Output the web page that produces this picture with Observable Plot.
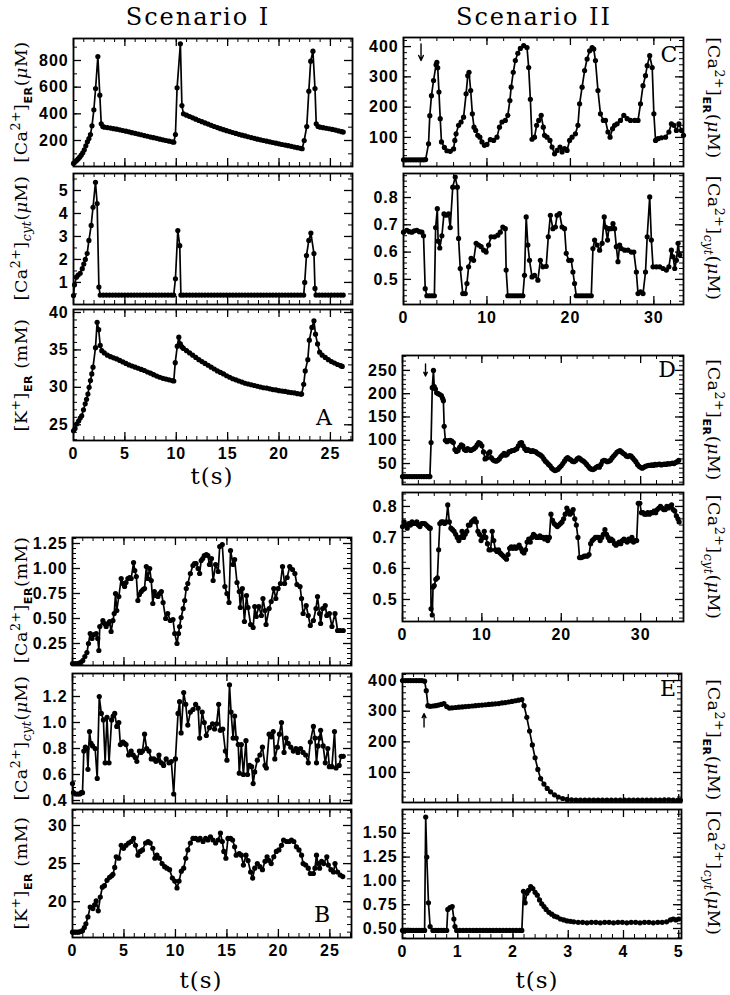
<!DOCTYPE html>
<html><head><meta charset="utf-8">
<script src="https://cdn.jsdelivr.net/npm/d3@7"></script>
<script src="https://cdn.jsdelivr.net/npm/@observablehq/plot@0.6"></script>
<style>
body{margin:0;background:#fff;}
#fig{position:relative;width:730px;height:995px;overflow:hidden;background:#fff;color:#000;}
.pl{position:absolute;}
.tx{position:absolute;font-family:'DejaVu Serif',serif;transform:translate(-50%,-50%);white-space:nowrap;line-height:1;}
.title{font-size:24px;letter-spacing:2px;}
.tlab{font-size:23px;letter-spacing:1px;}
.letter{font-size:22px;}
.ylab{position:absolute;font-family:'DejaVu Serif',serif;font-size:17.5px;letter-spacing:0.5px;white-space:nowrap;line-height:1;}
.ylab.l{transform:translate(-50%,-50%) rotate(-90deg);}
.ylab.r{transform:translate(-50%,-50%) rotate(90deg);}
.ylab sup,.ylab sub{font-size:72%;}
.ylab sub.er{font-family:'DejaVu Sans',sans-serif;font-weight:bold;font-size:64%;}
.ylab sub.cyt{font-style:italic;}
</style></head>
<body><div id="fig"></div>
<script>
// ---------- data: [t (s), value] ----------
const caErA = [[0,28],[0.15,38],[0.3,50],[0.45,62],[0.6,75],[0.75,90],[0.9,108],[1.05,130],[1.2,160],[1.35,190],[1.5,215],[1.65,245],[1.8,310],[1.98,430],[2.15,590],[2.37,830],[2.56,540],[2.7,325],[2.85,305],
[3.0,300],[3.3,297],[3.6,293],[3.9,289],[4.2,285],[4.5,280],[4.8,275],[5.1,270],[5.4,265],[5.7,259],[6.0,254],[6.3,248],[6.6,243],[6.9,237],[7.2,232],[7.5,226],[7.8,221],[8.1,216],[8.4,210],[8.7,205],[9.0,200],[9.3,195],[9.6,190],[9.76,187],
[9.92,245],[10.08,595],[10.4,925],[10.55,462],[10.7,400],
[11.0,390],[11.3,380],[11.6,370],[11.9,360],[12.2,350],[12.5,341],[12.8,332],[13.1,323],[13.4,314],[13.7,305],[14.0,297],[14.3,289],[14.6,281],[14.9,274],[15.2,267],[15.5,260],[15.8,253],[16.1,246],[16.4,240],[16.7,234],[17.0,228],[17.3,222],[17.6,216],[17.9,210],[18.2,205],[18.5,200],[18.8,195],[19.1,190],[19.4,185],[19.7,180],[20.0,175],[20.3,170],[20.6,166],[20.9,161],[21.2,156],[21.5,151],[21.8,146],[22.1,141],[22.25,138],
[22.45,200],[22.7,305],[22.9,570],[23.08,795],[23.3,870],[23.5,590],[23.62,325],[23.8,305],
[24.0,300],[24.3,296],[24.6,292],[24.9,288],[25.2,283],[25.5,278],[25.8,272],[26.1,266],[26.25,263]];

const caCytA = [[0,0.43],[0.1,0.9],[0.28,1.23],[0.45,1.32],[0.65,1.4],[0.85,1.6],[1.0,1.8],[1.15,2.0],[1.33,2.26],[1.5,2.83],[1.72,3.48],[1.9,4.27],[2.14,5.36],[2.3,4.43],[2.47,0.8],[2.6,0.45],
[2.9,0.45],[3.2,0.45],[3.5,0.45],[3.8,0.45],[4.1,0.45],[4.4,0.45],[4.7,0.45],[5.0,0.45],[5.3,0.45],[5.6,0.45],[5.9,0.45],[6.2,0.45],[6.5,0.45],[6.8,0.45],[7.1,0.45],[7.4,0.45],[7.7,0.45],[8.0,0.45],[8.3,0.45],[8.6,0.45],[8.9,0.45],[9.2,0.45],[9.5,0.45],[9.75,0.45],
[9.92,1.16],[10.15,3.26],[10.34,2.6],[10.45,0.45],
[10.7,0.45],[11.0,0.45],[11.3,0.45],[11.6,0.45],[11.9,0.45],[12.2,0.45],[12.5,0.45],[12.8,0.45],[13.1,0.45],[13.4,0.45],[13.7,0.45],[14.0,0.45],[14.3,0.45],[14.6,0.45],[14.9,0.45],[15.2,0.45],[15.5,0.45],[15.8,0.45],[16.1,0.45],[16.4,0.45],[16.7,0.45],[17.0,0.45],[17.3,0.45],[17.6,0.45],[17.9,0.45],[18.2,0.45],[18.5,0.45],[18.8,0.45],[19.1,0.45],[19.4,0.45],[19.7,0.45],[20.0,0.45],[20.3,0.45],[20.6,0.45],[20.9,0.45],[21.2,0.45],[21.5,0.45],[21.8,0.45],[22.1,0.45],[22.4,0.45],
[22.5,1.0],[22.67,2.17],[22.9,2.83],[23.1,3.15],[23.4,2.25],[23.5,0.74],[23.6,0.45],
[23.9,0.45],[24.2,0.45],[24.5,0.45],[24.8,0.45],[25.1,0.45],[25.4,0.45],[25.7,0.45],[26.0,0.45],[26.25,0.45]];

const kErA = [[0,24.2],[0.15,24.5],[0.3,25.1],[0.5,25.5],[0.65,25.9],[0.8,26.2],[0.97,27.0],[1.14,27.8],[1.27,28.4],[1.4,29.1],[1.52,30.0],[1.65,30.9],[1.78,31.8],[1.9,32.7],[2.14,35.3],[2.3,38.7],[2.45,37.7],[2.6,35.6],[2.75,34.9],
[3.0,34.6],[3.3,34.3],[3.6,34.1],[3.9,33.95],[4.2,33.8],[4.5,33.6],[4.8,33.4],[5.1,33.2],[5.4,33.0],[5.7,32.85],[6.0,32.7],[6.3,32.55],[6.6,32.4],[6.9,32.25],[7.2,32.05],[7.5,31.9],[7.8,31.7],[8.1,31.5],[8.4,31.35],[8.7,31.2],[9.0,31.1],[9.3,31.0],[9.6,30.9],[9.76,30.85],
[9.9,33.3],[10.1,35.5],[10.25,36.7],[10.4,35.8],[10.55,35.4],[10.7,35.2],
[11.0,34.9],[11.3,34.6],[11.6,34.3],[11.9,34.0],[12.2,33.7],[12.5,33.45],[12.8,33.2],[13.1,32.95],[13.4,32.7],[13.7,32.45],[14.0,32.2],[14.3,32.0],[14.6,31.8],[14.9,31.55],[15.2,31.35],[15.5,31.15],[15.8,31.0],[16.1,30.85],[16.4,30.7],[16.7,30.55],[17.0,30.45],[17.3,30.35],[17.6,30.25],[17.9,30.15],[18.2,30.05],[18.5,29.95],[18.8,29.9],[19.1,29.8],[19.4,29.7],[19.7,29.65],[20.0,29.55],[20.3,29.5],[20.6,29.45],[20.9,29.35],[21.2,29.3],[21.5,29.25],[21.8,29.15],[22.1,29.1],[22.2,29.1],
[22.4,30.4],[22.55,32.2],[22.8,33.7],[22.95,36.3],[23.2,38.0],[23.4,38.9],[23.55,37.1],[23.75,35.8],[23.95,34.7],
[24.2,34.3],[24.5,34.0],[24.8,33.7],[25.1,33.45],[25.4,33.25],[25.7,33.05],[26.0,32.9],[26.15,32.8]];

const caErB = [[0,0.05],[0.25,0.05],[0.5,0.05],[0.75,0.06],[1.0,0.08],[1.2,0.12],[1.4,0.16],[1.55,0.25],[1.72,0.35],[1.9,0.3],[2.1,0.34],[2.3,0.35],[2.45,0.3],[2.56,0.18],[2.65,0.42],[2.95,0.48],[3.1,0.45],[3.27,0.42],[3.45,0.45],[3.6,0.47],[3.75,0.37],[3.93,0.48],[4.05,0.55],[4.18,0.75],[4.3,0.58],[4.5,0.72],[4.73,0.9],[4.9,0.85],[5.06,0.82],[5.2,0.86],[5.38,0.9],[5.55,0.91],[5.7,0.9],[5.93,1.06],[6.05,0.98],[6.2,0.92],[6.35,0.68],[6.5,0.74],[6.68,0.77],[6.85,0.79],[7.0,0.8],[7.17,1.02],[7.3,0.9],[7.5,1.0],[7.65,0.88],[7.8,0.65],[7.95,0.77],[8.1,0.73],[8.3,0.72],[8.45,0.75],[8.63,0.77],[8.8,0.66],[9.05,0.5],[9.25,0.55],[9.5,0.48],[9.76,0.49],[9.93,0.35],[10.15,0.25],[10.3,0.35],[10.4,0.42],[10.55,0.51],[10.75,0.6],[10.9,0.68],[11.05,0.8],[11.2,0.85],[11.45,0.95],[11.7,1.03],[11.85,1.05],[12.0,1.05],[12.2,1.0],[12.35,0.95],[12.5,1.08],[12.65,1.1],[12.8,1.13],[13.0,1.14],[13.15,1.13],[13.3,1.04],[13.5,1.1],[13.66,0.88],[13.9,1.04],[14.15,0.97],[14.3,1.22],[14.55,1.24],[14.8,0.82],[15.0,0.75],[15.2,0.66],[15.35,1.18],[15.6,1.04],[15.75,1.09],[15.98,0.86],[16.2,0.77],[16.3,0.61],[16.5,0.8],[16.7,0.47],[16.9,0.73],[17.05,0.61],[17.3,0.44],[17.55,0.41],[17.7,0.62],[17.85,0.52],[18.1,0.62],[18.35,0.53],[18.5,0.7],[18.7,0.58],[18.8,0.44],[19.1,0.6],[19.3,0.67],[19.55,0.8],[19.75,0.7],[19.97,0.8],[20.2,0.85],[20.4,1.02],[20.6,0.85],[20.85,0.91],[21.1,1.02],[21.37,0.99],[21.6,0.95],[21.8,0.84],[22.1,0.82],[22.25,0.7],[22.4,0.55],[22.7,0.63],[22.9,0.53],[23.1,0.43],[23.4,0.48],[23.65,0.6],[23.8,0.72],[24.0,0.55],[24.1,0.45],[24.3,0.6],[24.55,0.63],[24.7,0.53],[24.95,0.55],[25.2,0.42],[25.5,0.55],[25.75,0.38],[26.0,0.38],[26.3,0.38]];

const caCytB = [[0,0.53],[0.1,0.46],[0.3,0.45],[0.5,0.45],[0.7,0.45],[0.85,0.46],[0.97,0.46],[1.1,0.78],[1.25,0.81],[1.4,0.8],[1.5,0.64],[1.65,0.93],[1.8,0.84],[1.95,0.82],[2.2,0.8],[2.4,0.57],[2.6,1.2],[2.8,1.07],[3.0,1.02],[3.17,0.69],[3.35,1.04],[3.55,0.69],[3.8,1.02],[3.95,1.05],[4.1,1.07],[4.3,0.97],[4.5,1.0],[4.65,0.83],[4.9,0.85],[5.05,0.84],[5.2,0.83],[5.45,0.75],[5.7,0.78],[5.9,0.75],[6.1,0.73],[6.25,0.7],[6.5,0.78],[6.65,0.77],[6.8,0.78],[7.0,0.91],[7.2,0.8],[7.43,0.78],[7.65,0.72],[7.9,0.72],[8.1,0.7],[8.25,0.71],[8.4,0.75],[8.63,0.69],[8.85,0.67],[9.1,0.72],[9.37,0.69],[9.6,0.7],[9.83,0.45],[10.0,0.72],[10.25,1.07],[10.4,1.16],[10.55,0.92],[10.8,1.23],[11.0,1.14],[11.2,0.98],[11.45,1.08],[11.7,1.1],[11.96,1.14],[12.2,1.11],[12.35,0.88],[12.6,1.08],[12.8,1.0],[13.0,0.9],[13.3,0.96],[13.6,0.99],[13.8,0.95],[14.0,0.99],[14.2,1.14],[14.35,0.94],[14.6,0.95],[14.85,0.78],[15.0,0.71],[15.25,1.29],[15.4,1.08],[15.6,0.88],[15.75,1.05],[15.9,0.88],[16.1,0.83],[16.2,0.61],[16.4,0.83],[16.6,0.6],[16.85,0.86],[17.0,0.6],[17.2,0.67],[17.4,0.66],[17.55,0.53],[17.7,0.62],[17.95,0.71],[18.2,0.75],[18.45,0.81],[18.7,0.67],[18.83,0.65],[19.1,0.91],[19.3,0.89],[19.5,0.93],[19.65,0.72],[19.9,0.81],[20.1,0.91],[20.3,1.0],[20.55,0.77],[20.75,0.88],[20.95,0.84],[21.2,0.81],[21.45,0.78],[21.7,0.8],[21.9,0.77],[22.15,0.8],[22.4,0.77],[22.65,0.75],[22.9,0.69],[23.1,0.85],[23.4,0.97],[23.55,0.88],[23.7,0.69],[23.85,0.82],[24.0,0.88],[24.1,0.94],[24.35,0.82],[24.55,0.69],[24.8,0.8],[24.95,0.66],[25.2,0.66],[25.45,0.93],[25.6,0.65],[25.9,0.67],[26.1,0.74],[26.3,0.74]];

const kErB = [[0,16.0],[0.2,16.0],[0.4,16.0],[0.6,16.0],[0.8,16.1],[0.97,16.2],[1.15,16.6],[1.3,17.1],[1.5,18.0],[1.72,19.3],[1.98,19.1],[2.15,19.6],[2.3,20.1],[2.5,18.8],[2.7,20.6],[2.9,21.9],[3.1,22.1],[3.35,22.8],[3.6,23.2],[3.8,23.4],[3.93,23.6],[4.1,24.5],[4.25,25.9],[4.5,25.7],[4.73,27.4],[4.96,27.0],[5.2,27.4],[5.45,27.7],[5.7,27.9],[5.93,28.3],[6.12,27.4],[6.35,26.1],[6.58,26.6],[6.8,26.8],[7.1,27.7],[7.35,27.9],[7.55,27.7],[7.8,27.0],[8.0,25.7],[8.2,26.1],[8.45,25.7],[8.7,25.0],[8.95,24.6],[9.17,24.4],[9.43,24.2],[9.7,23.1],[9.93,22.7],[10.15,21.8],[10.35,22.7],[10.57,24.0],[10.8,24.4],[11.0,25.7],[11.2,26.8],[11.45,27.7],[11.7,28.3],[11.96,28.3],[12.2,28.1],[12.4,28.3],[12.68,27.9],[12.93,28.3],[13.15,28.1],[13.4,28.5],[13.65,28.1],[13.9,27.7],[14.15,28.1],[14.37,29.0],[14.55,27.9],[14.7,26.6],[14.9,25.7],[15.1,28.3],[15.35,28.3],[15.55,28.1],[15.75,27.2],[15.9,26.1],[16.2,26.3],[16.4,26.1],[16.6,24.8],[16.85,26.1],[17.05,25.4],[17.3,23.9],[17.5,23.1],[17.7,24.4],[17.95,25.0],[18.2,24.6],[18.45,24.2],[18.7,25.3],[18.9,25.9],[19.1,25.4],[19.3,25.0],[19.55,25.9],[19.8,26.6],[20.05,26.8],[20.3,27.4],[20.5,28.1],[20.8,27.9],[21.05,27.9],[21.27,28.1],[21.5,27.9],[21.75,27.2],[22.0,26.8],[22.25,26.1],[22.4,25.0],[22.65,24.8],[22.9,24.4],[23.1,23.7],[23.4,23.7],[23.55,24.4],[23.7,26.1],[23.85,25.0],[24.0,24.4],[24.2,25.3],[24.4,25.0],[24.7,25.9],[24.85,24.8],[25.1,24.2],[25.35,23.9],[25.5,25.0],[25.75,23.9],[26.0,23.5],[26.25,23.3]];

const caErC = [[0,26],[0.3,26],[0.6,26],[0.9,26],[1.2,26],[1.5,26],[1.8,26],[2.1,26],[2.4,26],[2.65,27],[3.0,79],[3.15,172],[3.35,238],[3.6,288],[3.9,340],[4.0,348],[4.1,330],[4.25,250],[4.4,162],[4.55,85],[4.9,67],[5.2,56],[5.6,54],[6.0,62],[6.15,90],[6.3,112],[6.6,140],[6.9,151],[7.2,167],[7.5,244],[7.7,304],[7.85,315],[8.05,255],[8.25,178],[8.45,134],[8.65,123],[8.9,107],[9.15,101],[9.4,85],[9.7,74],[10.0,77],[10.4,93],[10.8,90],[11.2,101],[11.5,134],[11.8,151],[12.2,156],[12.5,173],[12.75,222],[12.9,266],[13.15,315],[13.4,354],[13.7,378],[14.0,394],[14.4,403],[14.8,397],[15.0,331],[15.2,226],[15.4,94],[15.7,101],[15.95,140],[16.2,156],[16.5,173],[16.75,134],[16.9,107],[17.2,101],[17.55,90],[17.8,68],[18.1,46],[18.4,57],[18.75,68],[19.0,52],[19.3,63],[19.6,57],[19.9,90],[20.2,101],[20.6,112],[20.9,140],[21.1,211],[21.4,266],[21.7,321],[22.0,359],[22.3,386],[22.6,397],[22.8,392],[23.0,354],[23.3,255],[23.6,178],[23.95,156],[24.2,156],[24.5,118],[24.75,101],[25.05,129],[25.3,140],[25.6,145],[26.0,156],[26.4,173],[26.8,162],[27.2,156],[27.7,156],[28.1,156],[28.4,211],[28.7,271],[29.0,304],[29.2,337],[29.5,370],[29.8,331],[30.0,178],[30.2,90],[30.5,96],[30.9,99],[31.4,101],[31.8,118],[32.1,145],[32.4,140],[32.7,123],[33.0,145],[33.3,123],[33.55,107]];

const caCytC = [[0,0.673],[0.4,0.68],[0.7,0.675],[1.0,0.673],[1.3,0.678],[1.6,0.68],[1.9,0.675],[2.2,0.673],[2.4,0.66],[2.6,0.466],[2.8,0.44],[3.1,0.44],[3.4,0.44],[3.7,0.44],[3.85,0.69],[4.05,0.759],[4.15,0.64],[4.35,0.615],[4.6,0.66],[4.85,0.74],[5.1,0.735],[5.4,0.74],[5.6,0.69],[5.9,0.838],[6.2,0.875],[6.45,0.838],[6.6,0.65],[6.8,0.54],[7.1,0.448],[7.4,0.448],[7.6,0.485],[7.8,0.546],[8.1,0.577],[8.4,0.57],[8.7,0.632],[9.0,0.626],[9.3,0.62],[9.6,0.607],[9.9,0.6],[10.2,0.626],[10.5,0.656],[10.9,0.656],[11.3,0.662],[11.6,0.673],[11.9,0.692],[12.2,0.686],[12.3,0.534],[12.5,0.44],[12.8,0.44],[13.1,0.44],[13.4,0.44],[13.7,0.44],[14.0,0.44],[14.3,0.44],[14.5,0.515],[14.7,0.729],[14.9,0.626],[15.1,0.57],[15.4,0.509],[15.7,0.515],[16.1,0.497],[16.4,0.57],[16.7,0.546],[17.1,0.548],[17.35,0.656],[17.6,0.735],[17.9,0.686],[18.2,0.692],[18.4,0.735],[18.7,0.741],[19.0,0.692],[19.3,0.686],[19.5,0.595],[19.8,0.57],[20.1,0.57],[20.3,0.527],[20.5,0.485],[20.7,0.44],[21.0,0.44],[21.3,0.44],[21.6,0.44],[21.9,0.44],[22.2,0.44],[22.5,0.44],[22.7,0.613],[22.9,0.644],[23.2,0.626],[23.5,0.607],[23.8,0.632],[24.05,0.729],[24.2,0.692],[24.45,0.644],[24.6,0.686],[24.85,0.686],[25.1,0.704],[25.3,0.686],[25.5,0.62],[25.7,0.565],[25.9,0.626],[26.1,0.613],[26.5,0.607],[26.9,0.607],[27.3,0.6],[27.6,0.6],[27.9,0.527],[28.1,0.448],[28.4,0.454],[28.7,0.448],[29.0,0.527],[29.2,0.656],[29.5,0.802],[29.7,0.644],[29.9,0.546],[30.3,0.546],[30.7,0.546],[31.1,0.54],[31.5,0.534],[31.8,0.546],[32.1,0.607],[32.3,0.583],[32.5,0.54],[32.7,0.57],[32.9,0.632],[33.1,0.589]];

const caErD = [[0,22],[0.3,22],[0.6,22],[0.9,22],[1.2,22],[1.5,22],[1.8,22],[2.1,22],[2.4,22],[2.7,22],[3.0,22],[3.3,22],[3.45,22],[3.6,95],[3.75,213],[3.9,250],[4.0,215],[4.15,210],[4.3,202],[4.5,200],[4.7,198],[4.9,196],[5.05,190],[5.15,185],[5.25,130],[5.4,100],[5.6,97],[5.8,99],[6.0,100],[6.2,98],[6.4,95],[6.6,80],[6.8,76],[7.0,78],[7.2,85],[7.4,90],[7.6,88],[7.8,80],[8.0,78],[8.2,82],[8.4,80],[8.6,78],[8.8,80],[9.0,82],[9.2,85],[9.4,90],[9.6,95],[9.8,93],[10.0,88],[10.2,75],[10.4,60],[10.6,62],[10.8,72],[11.0,75],[11.2,62],[11.4,58],[11.6,56],[11.8,55],[12.0,57],[12.2,60],[12.4,65],[12.6,68],[12.8,72],[13.0,68],[13.2,70],[13.4,75],[13.6,76],[13.8,78],[14.0,78],[14.2,80],[14.4,82],[14.6,88],[14.8,94],[15.0,95],[15.2,88],[15.4,82],[15.6,78],[15.8,80],[16.0,78],[16.2,76],[16.4,78],[16.6,76],[16.8,75],[17.0,72],[17.2,70],[17.4,68],[17.6,65],[17.8,60],[18.0,55],[18.2,52],[18.4,48],[18.6,45],[18.8,40],[19.0,37],[19.2,35],[19.4,36],[19.6,38],[19.8,42],[20.0,45],[20.2,50],[20.4,55],[20.6,60],[20.8,63],[21.0,60],[21.2,58],[21.4,55],[21.6,54],[21.8,56],[22.0,60],[22.2,62],[22.4,60],[22.6,57],[22.8,55],[23.0,52],[23.2,48],[23.4,44],[23.6,40],[23.8,38],[24.0,37],[24.2,39],[24.4,42],[24.6,44],[24.8,42],[25.0,48],[25.2,55],[25.4,57],[25.6,56],[25.8,54],[26.0,55],[26.2,57],[26.4,62],[26.6,66],[26.8,70],[27.0,74],[27.2,76],[27.4,78],[27.6,75],[27.8,72],[28.0,70],[28.2,66],[28.4,65],[28.6,67],[28.8,66],[29.0,62],[29.2,58],[29.4,54],[29.6,48],[29.8,44],[30.0,42],[30.2,40],[30.4,42],[30.6,44],[30.8,45],[31.0,46],[31.2,46],[31.4,47],[31.6,46],[31.8,48],[32.0,47],[32.2,48],[32.4,49],[32.6,47],[32.8,48],[33.0,49],[33.2,48],[33.4,50],[33.6,49],[33.8,50],[34.0,51],[34.2,50],[34.4,52],[34.6,54],[34.8,57]];

const caCytD = [[0,0.735],[0.2,0.75],[0.4,0.74],[0.6,0.73],[0.8,0.745],[1.0,0.74],[1.2,0.75],[1.4,0.745],[1.6,0.745],[1.8,0.75],[2.0,0.74],[2.2,0.735],[2.4,0.745],[2.6,0.745],[2.8,0.745],[3.0,0.74],[3.2,0.735],[3.4,0.73],[3.5,0.73],[3.6,0.47],[3.75,0.45],[3.85,0.54],[4.0,0.545],[4.2,0.565],[4.4,0.57],[4.55,0.66],[4.7,0.745],[4.9,0.75],[5.1,0.75],[5.3,0.745],[5.5,0.75],[5.7,0.805],[5.9,0.75],[6.1,0.73],[6.3,0.725],[6.5,0.72],[6.7,0.71],[6.9,0.7],[7.1,0.69],[7.3,0.7],[7.5,0.72],[7.7,0.7],[7.9,0.71],[8.1,0.72],[8.3,0.74],[8.5,0.74],[8.7,0.75],[8.9,0.755],[9.1,0.76],[9.3,0.75],[9.5,0.72],[9.7,0.71],[9.9,0.69],[10.1,0.7],[10.3,0.72],[10.5,0.7],[10.7,0.68],[10.9,0.66],[11.1,0.66],[11.3,0.72],[11.5,0.69],[11.7,0.66],[11.9,0.655],[12.1,0.66],[12.3,0.65],[12.5,0.645],[12.7,0.64],[12.9,0.635],[13.1,0.63],[13.3,0.645],[13.5,0.665],[13.7,0.67],[13.9,0.665],[14.1,0.67],[14.3,0.665],[14.5,0.67],[14.7,0.675],[14.9,0.665],[15.1,0.655],[15.3,0.65],[15.5,0.66],[15.7,0.685],[15.9,0.695],[16.1,0.685],[16.3,0.7],[16.5,0.71],[16.7,0.705],[16.9,0.7],[17.1,0.7],[17.3,0.705],[17.5,0.7],[17.7,0.7],[17.9,0.695],[18.1,0.7],[18.3,0.69],[18.5,0.7],[18.7,0.775],[18.9,0.755],[19.1,0.745],[19.3,0.74],[19.5,0.735],[19.7,0.74],[19.9,0.745],[20.1,0.75],[20.3,0.76],[20.5,0.775],[20.7,0.795],[20.9,0.785],[21.1,0.775],[21.3,0.78],[21.5,0.79],[21.7,0.76],[21.9,0.74],[22.1,0.7],[22.3,0.635],[22.5,0.635],[22.7,0.637],[22.9,0.64],[23.1,0.64],[23.3,0.64],[23.5,0.645],[23.7,0.68],[23.9,0.69],[24.1,0.695],[24.3,0.7],[24.5,0.7],[24.7,0.7],[24.9,0.69],[25.1,0.7],[25.3,0.71],[25.5,0.725],[25.7,0.71],[25.9,0.7],[26.1,0.69],[26.3,0.695],[26.5,0.69],[26.7,0.68],[26.9,0.675],[27.1,0.68],[27.3,0.685],[27.5,0.68],[27.7,0.69],[27.9,0.695],[28.1,0.69],[28.3,0.685],[28.5,0.695],[28.7,0.69],[28.9,0.7],[29.1,0.685],[29.3,0.69],[29.5,0.69],[29.7,0.81],[29.9,0.81],[30.1,0.78],[30.3,0.78],[30.5,0.775],[30.7,0.775],[30.9,0.78],[31.1,0.775],[31.3,0.78],[31.5,0.78],[31.7,0.785],[31.9,0.78],[32.1,0.79],[32.3,0.795],[32.5,0.8],[32.7,0.795],[32.9,0.79],[33.1,0.79],[33.3,0.8],[33.5,0.795],[33.7,0.8],[33.9,0.805],[34.1,0.79],[34.3,0.785],[34.5,0.77],[34.7,0.76],[34.85,0.75]];

const caErE = [[0,400],[0.05,400],[0.1,400],[0.15,400],[0.2,400],[0.25,400],[0.3,400],[0.35,400],[0.4,398],[0.43,367],[0.46,318],[0.5,316],[0.55,317],[0.6,318],[0.65,320],[0.7,322],[0.75,325],[0.8,315],[0.85,310],[0.9,311],[0.96,312],[1.02,313],[1.08,314],[1.14,315],[1.2,316],[1.26,317],[1.32,318],[1.38,319],[1.44,320],[1.5,321],[1.56,322],[1.62,323],[1.68,324],[1.74,325],[1.8,327],[1.86,328],[1.92,330],[1.98,332],[2.04,334],[2.1,336],[2.16,338],[2.2,318],[2.25,280],[2.3,235],[2.35,190],[2.4,148],[2.45,110],[2.5,80],[2.56,62],[2.62,48],[2.68,37],[2.75,27],[2.82,20],[2.9,15],[2.98,12],[3.06,11],[3.14,10],[3.22,10],[3.3,10],[3.38,10],[3.46,10],[3.54,10],[3.62,10],[3.7,10],[3.78,10],[3.86,10],[3.94,10],[4.02,10],[4.1,10],[4.18,10],[4.26,10],[4.34,10],[4.42,10],[4.5,10],[4.58,10],[4.66,10],[4.74,11],[4.82,11],[4.9,10],[4.98,9],[5.03,9]];

const caCytE = [[0,0.48],[0.05,0.48],[0.1,0.48],[0.15,0.48],[0.2,0.48],[0.25,0.48],[0.3,0.48],[0.35,0.48],[0.4,0.48],[0.42,1.67],[0.44,1.25],[0.47,0.77],[0.5,0.52],[0.55,0.48],[0.6,0.48],[0.65,0.48],[0.7,0.48],[0.75,0.48],[0.8,0.48],[0.82,0.7],[0.86,0.72],[0.9,0.73],[0.93,0.6],[0.95,0.52],[0.98,0.48],[1.04,0.48],[1.1,0.48],[1.16,0.48],[1.22,0.48],[1.28,0.48],[1.34,0.48],[1.4,0.48],[1.46,0.48],[1.52,0.48],[1.58,0.48],[1.64,0.48],[1.7,0.48],[1.76,0.48],[1.82,0.48],[1.88,0.48],[1.94,0.48],[2.0,0.48],[2.06,0.48],[2.12,0.48],[2.16,0.48],[2.19,0.89],[2.22,0.77],[2.25,0.87],[2.28,0.9],[2.32,0.94],[2.36,0.92],[2.4,0.88],[2.44,0.85],[2.48,0.8],[2.52,0.76],[2.56,0.73],[2.6,0.7],[2.65,0.67],[2.7,0.65],[2.75,0.63],[2.8,0.62],[2.86,0.6],[2.92,0.59],[2.98,0.58],[3.04,0.575],[3.1,0.57],[3.18,0.565],[3.26,0.565],[3.34,0.56],[3.42,0.565],[3.5,0.565],[3.58,0.56],[3.66,0.565],[3.74,0.565],[3.82,0.56],[3.9,0.565],[3.98,0.565],[4.06,0.56],[4.14,0.565],[4.22,0.565],[4.3,0.56],[4.38,0.565],[4.46,0.565],[4.54,0.56],[4.62,0.565],[4.7,0.565],[4.78,0.57],[4.85,0.59],[4.9,0.6],[4.95,0.59],[5.0,0.6]];

// arrows: [t, tail value, head value]
const arrowC = [[2.1, 409, 354]];
const arrowD = [[2.9, 264, 238]];
const arrowE = [[0.39, 248, 292]];

// tick labels
const ticksA_x = [0,5,10,15,20,25];
const ticksC_x = [0,10,20,30];
const ticksE_x = [0,1,2,3,4,5];

const panels = [
 {data:caErA, left:73, top:38, w:279, h:128, xd:[0,27.15], yd:[5,965], xt:ticksA_x, xs:1, yt:[200,400,600,800], ys:100, f:"d", xl:false},
 {data:caCytA, left:73, top:173, w:279, h:131, xd:[0,27.15], yd:[0.04,5.74], xt:ticksA_x, xs:1, yt:[1,2,3,4,5], ys:0.5, f:"d", xl:false},
 {data:kErA, left:73, top:309, w:279, h:131, xd:[0,27.15], yd:[22.9,40.4], xt:ticksA_x, xs:1, yt:[25,30,35,40], ys:1, f:"d", xl:true},
 {data:caErB, left:72, top:537, w:279, h:128, xd:[0,27.1], yd:[0.03,1.31], xt:ticksA_x, xs:1, yt:[0.25,0.5,0.75,1.0,1.25], ys:0.05, f:".2f", xl:false},
 {data:caCytB, left:72, top:673, w:279, h:130, xd:[0,27.1], yd:[0.377,1.377], xt:ticksA_x, xs:1, yt:[0.4,0.6,0.8,1.0,1.2], ys:0.05, f:".1f", xl:false},
 {data:kErB, left:72, top:809, w:279, h:128, xd:[0,27.1], yd:[15.3,32.1], xt:ticksA_x, xs:1, yt:[20,25,30], ys:1, f:"d", xl:true},
 {data:caErC, left:403, top:37, w:280, h:129, xd:[0,33.55], yd:[4,430], xt:ticksC_x, xs:2, yt:[100,200,300,400], ys:20, f:"d", xl:false, arrow:arrowC},
 {data:caCytC, left:403, top:173, w:280, h:131, xd:[0,33.55], yd:[0.408,0.888], xt:ticksC_x, xs:2, yt:[0.5,0.6,0.7,0.8], ys:0.02, f:".1f", xl:true},
 {data:caErD, left:402, top:355, w:281, h:129, xd:[0,35.4], yd:[5,282], xt:ticksC_x, xs:2, yt:[50,100,150,200,250], ys:10, f:"d", xl:false, arrow:arrowD},
 {data:caCytD, left:402, top:492, w:281, h:129, xd:[0,35.4], yd:[0.429,0.845], xt:ticksC_x, xs:2, yt:[0.5,0.6,0.7,0.8], ys:0.02, f:".1f", xl:true},
 {data:caErE, left:402, top:673, w:279, h:129, xd:[0,5.05], yd:[2,423], xt:ticksE_x, xs:0.2, yt:[100,200,300,400], ys:20, f:"d", xl:false, arrow:arrowE},
 {data:caCytE, left:402, top:809, w:279, h:129, xd:[0,5.05], yd:[0.395,1.75], xt:ticksE_x, xs:0.2, yt:[0.5,0.75,1.0,1.25,1.5], ys:0.05, f:".2f", xl:true}
];

const fig = document.getElementById("fig");
function minors(dom, step){
  const out=[]; const s=Math.ceil(dom[0]/step-1e-9);
  for(let i=s; i*step<=dom[1]+1e-9; i++) out.push(+(i*step).toFixed(6));
  return out;
}
for (const p of panels){
  const mL=62,mR=6,mT=6,mB=p.xl?32:6;
  const data=p.data.map(([t,v])=>({t,v}));
  const xMin=minors(p.xd,p.xs), yMin=minors(p.yd,p.ys);
  const MJ=8, MN=4;
  const fmt = p.f==="d" ? (d=>String(d)) : d3.format(p.f);
  const marks=[
    Plot.tickX(xMin,{x:d=>d,insetTop:p.h-MN,strokeWidth:1}),
    Plot.tickX(xMin,{x:d=>d,insetBottom:p.h-MN,strokeWidth:1}),
    Plot.tickX(p.xt,{x:d=>d,insetTop:p.h-MJ,strokeWidth:1.3}),
    Plot.tickX(p.xt,{x:d=>d,insetBottom:p.h-MJ,strokeWidth:1.3}),
    Plot.tickY(yMin,{y:d=>d,insetRight:p.w-MN,strokeWidth:1}),
    Plot.tickY(yMin,{y:d=>d,insetLeft:p.w-MN,strokeWidth:1}),
    Plot.tickY(p.yt,{y:d=>d,insetRight:p.w-MJ,strokeWidth:1.3}),
    Plot.tickY(p.yt,{y:d=>d,insetLeft:p.w-MJ,strokeWidth:1.3}),
    Plot.frame({strokeWidth:1.8}),
    Plot.line(data,{x:"t",y:"v",strokeWidth:1.7,curve:"linear"}),
    Plot.dot(data,{x:"t",y:"v",r:2.6,fill:"black",stroke:"none"}),
    Plot.axisY({ticks:p.yt,tickSize:0,tickPadding:5,tickFormat:fmt,label:null})
  ];
  if (p.xl) marks.push(Plot.axisX({ticks:p.xt,tickSize:0,tickPadding:7,tickFormat:d=>String(d),label:null}));
  if (p.arrow) marks.push(Plot.arrow(p.arrow,{x1:d=>d[0],x2:d=>d[0],y1:d=>d[1],y2:d=>d[2],strokeWidth:1.4,headLength:6,headAngle:50}));
  const svg=Plot.plot({
    width:p.w+mL+mR, height:p.h+mT+mB,
    marginLeft:mL, marginRight:mR, marginTop:mT, marginBottom:mB,
    x:{domain:p.xd, axis:p.xl?undefined:null},
    y:{domain:p.yd},
    style:"background:transparent;overflow:visible;font:bold 16px 'Liberation Sans',Arial,sans-serif;letter-spacing:0.9px;",
    marks
  });
  svg.classList.add("pl");
  svg.style.position="absolute";
  svg.style.left=(p.left-mL)+"px";
  svg.style.top=(p.top-mT)+"px";
  fig.appendChild(svg);
}

// text
function addText(cls, html, x, y){
  const d=document.createElement("div"); d.className=cls; d.innerHTML=html;
  d.style.left=x+"px"; d.style.top=y+"px"; fig.appendChild(d);
}
const ER='<sub class="er">ER</sub>', CYT='<sub class="cyt">cyt</sub>', MU='(<i>μ</i>M)';
const CA='[Ca<sup>2+</sup>]';
addText("tx title","Scenario I",198,17);
addText("tx title","Scenario II",534,17);
addText("tx tlab","t(s)",212,476);
addText("tx tlab","t(s)",201,980);
addText("tx tlab","t(s)",537,980);
addText("tx letter","A",324,418);
addText("tx letter","B",322,915);
addText("tx letter","C",669,55);
addText("tx letter","D",667,370);
addText("tx letter","E",668,689);
addText("ylab l",CA+ER+MU,22,102);
addText("ylab l",CA+CYT+MU,22,238);
addText("ylab l",'[K<sup>+</sup>]'+ER+' (mM)',22,375);
addText("ylab l",CA+ER+'(mM)',22,600);
addText("ylab l",CA+CYT+MU,22,738);
addText("ylab l",'[K<sup>+</sup>]'+ER+' (mM)',22,873);
addText("ylab r",CA+ER+MU,713,98);
addText("ylab r",CA+CYT+MU,713,238);
addText("ylab r",CA+ER+MU,713,420);
addText("ylab r",CA+CYT+MU,713,557);
addText("ylab r",CA+ER+MU,713,740);
addText("ylab r",CA+CYT+MU,713,873);
</script></body></html>
